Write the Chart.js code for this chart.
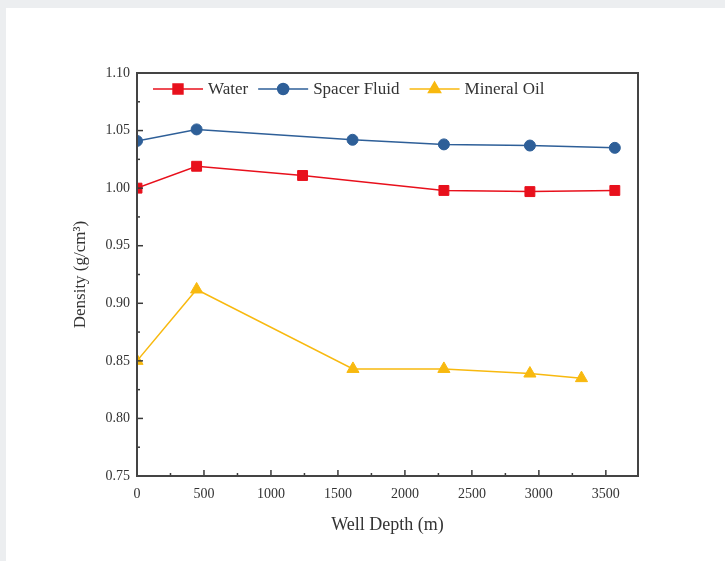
<!DOCTYPE html>
<html>
<head>
<meta charset="utf-8">
<script src="https://cdn.jsdelivr.net/npm/chart.js@4.4.1/dist/chart.umd.min.js"></script>
<style>
  html, body { margin: 0; padding: 0; background: #eceef0; }
  #wrap { position: absolute; left: 6px; top: 8px; width: 719px; height: 553px; background: #fff; }
</style>
</head>
<body>
<div id="wrap"><canvas id="myChart" width="719" height="553"></canvas></div>
<script>
// values
const waterDepth = [0, 445, 1236, 2291, 2933, 3567];
const waterDensity = [1.000, 1.019, 1.011, 0.998, 0.997, 0.998];

const spacerDepth = [0, 445, 1609, 2291, 2933, 3567];
const spacerDensity = [1.041, 1.051, 1.042, 1.038, 1.037, 1.035];

const oilDepth = [0, 445, 1612, 2291, 2933, 3318];
const oilDensity = [0.850, 0.912, 0.843, 0.843, 0.839, 0.835];

const xTicks = [0, 500, 1000, 1500, 2000, 2500, 3000, 3500];
const yTicks = [0.75, 0.80, 0.85, 0.90, 0.95, 1.00, 1.05, 1.10];

const COLORS = {
  red: '#e8101c',
  blue: '#2e5f98',
  yellow: '#f8b90f'
};

function pairs(xs, ys) {
  return xs.map((x, i) => ({ x: x, y: ys[i] }));
}

const serif = "'Liberation Serif', 'DejaVu Serif', serif";

// inward major/minor ticks plus box frame
const frame = {
  id: 'frame',
  afterDraw(chart) {
    const ctx = chart.ctx;
    const a = chart.chartArea;
    const sx = chart.scales.x, sy = chart.scales.y;
    ctx.save();
    ctx.strokeStyle = '#3a3a3a';
    ctx.lineWidth = 1.5;
    for (let v = 0; v <= 3500; v += 250) {
      const px = sx.getPixelForValue(v);
      const len = (v % 500 === 0) ? 6 : 3;
      ctx.beginPath();
      ctx.moveTo(px, a.bottom);
      ctx.lineTo(px, a.bottom - len);
      ctx.stroke();
    }
    for (let i = 0; i <= 14; i++) {
      const v = 0.75 + i * 0.025;
      const py = sy.getPixelForValue(v);
      const len = (i % 2 === 0) ? 6 : 3;
      ctx.beginPath();
      ctx.moveTo(a.left, py);
      ctx.lineTo(a.left + len, py);
      ctx.stroke();
    }
    ctx.lineWidth = 2;
    ctx.strokeStyle = '#444';
    ctx.strokeRect(a.left, a.top, a.right - a.left, a.bottom - a.top);
    ctx.restore();
  }
};

// legend drawn inside the plot, line + marker style
const innerLegend = {
  id: 'innerLegend',
  afterDraw(chart) {
    const ctx = chart.ctx;
    const a = chart.chartArea;
    let x = a.left + 16;
    const y = a.top + 16;
    ctx.save();
    ctx.font = '17px ' + serif;
    ctx.textBaseline = 'middle';
    chart.data.datasets.forEach((ds) => {
      ctx.strokeStyle = ds.borderColor;
      ctx.lineWidth = 1.5;
      ctx.beginPath();
      ctx.moveTo(x, y);
      ctx.lineTo(x + 50, y);
      ctx.stroke();
      ctx.fillStyle = ds.pointBackgroundColor;
      ctx.strokeStyle = ds.pointBackgroundColor;
      Chart.helpers.drawPoint(ctx, {
        pointStyle: ds.pointStyle,
        radius: ds.pointRadius,
        borderWidth: 1
      }, x + 25, y);
      ctx.fillStyle = '#333';
      ctx.fillText(ds.label, x + 55, y + 1);
      x += 55 + ctx.measureText(ds.label).width + 10;
    });
    ctx.restore();
  }
};

function series(label, xs, ys, color, style, r) {
  return {
    label: label,
    data: pairs(xs, ys),
    borderColor: color,
    backgroundColor: color,
    pointBackgroundColor: color,
    pointBorderColor: color,
    pointStyle: style,
    pointRadius: r,
    pointBorderWidth: 1,
    borderWidth: 1.5,
    showLine: true,
    tension: 0
  };
}

const data = {
  datasets: [
    series('Water', waterDepth, waterDensity, COLORS.red, 'rect', 7),
    series('Spacer Fluid', spacerDepth, spacerDensity, COLORS.blue, 'circle', 5.5),
    series('Mineral Oil', oilDepth, oilDensity, COLORS.yellow, 'triangle', 7)
  ]
};

const config = {
  type: 'scatter',
  data: data,
  options: {
    responsive: false,
    animation: false,
    layout: { padding: { left: 64, top: 65, right: 87, bottom: 25 } },
    plugins: {
      legend: { display: false },
      tooltip: { enabled: false }
    },
    scales: {
      x: {
        type: 'linear',
        min: 0,
        max: 3740,
        afterFit(s) { s.height = 60; },
        afterBuildTicks(s) { s.ticks = xTicks.map(v => ({ value: v })); },
        grid: { display: false, drawTicks: false },
        border: { display: false },
        ticks: {
          padding: 10,
          color: '#333',
          font: { family: serif, size: 14 },
          maxRotation: 0,
          callback: v => String(v)
        },
        title: {
          display: true,
          text: 'Well Depth (m)',
          color: '#333',
          font: { family: serif, size: 18 },
          padding: { top: 0, bottom: 0 }
        }
      },
      y: {
        type: 'linear',
        min: 0.75,
        max: 1.10,
        afterFit(s) { s.width = 67; },
        afterBuildTicks(s) { s.ticks = yTicks.map(v => ({ value: v })); },
        grid: { display: false, drawTicks: false },
        border: { display: false },
        ticks: {
          padding: 7,
          color: '#333',
          font: { family: serif, size: 14 },
          callback: v => Number(v).toFixed(2)
        },
        title: {
          display: true,
          text: 'Density (g/cm³)',
          color: '#333',
          font: { family: serif, size: 17 },
          padding: { top: 0, bottom: 0 }
        }
      }
    }
  },
  plugins: [frame, innerLegend]
};

const myChart = new Chart(document.getElementById('myChart'), config);
</script>
</body>
</html>
